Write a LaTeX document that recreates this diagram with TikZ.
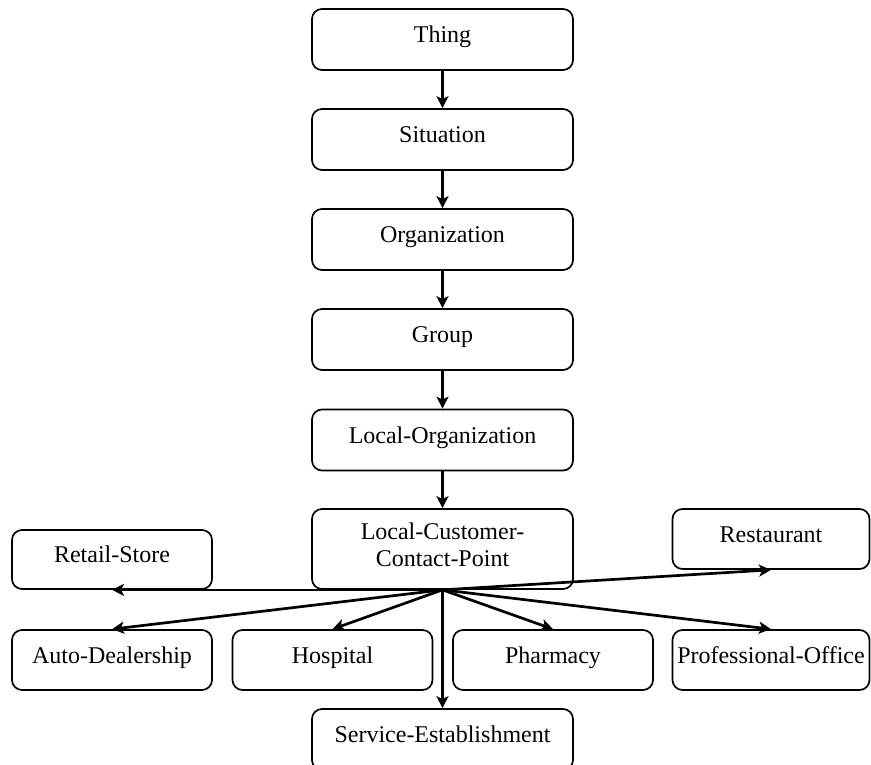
\documentclass[tikz,border=0pt]{standalone}
\usepackage{fontspec}
\setmainfont{Liberation Serif}
\usetikzlibrary{arrows.meta}
\begin{document}
\begin{tikzpicture}[x=1pt,y=-1pt,
  box/.style={draw, line width=1.7pt, rounded corners=10pt, inner sep=0pt,
    font=\fontsize{24}{27}\selectfont, text height=17pt, text depth=11pt, align=center},
  cbox/.style={box, minimum width=261pt, minimum height=61pt},
  sbox/.style={box, minimum width=200pt, minimum height=60pt},
  arr/.style={line width=2.7pt, -{Stealth[length=12pt,width=12pt,inset=3pt]}}]
\clip (0,0) rectangle (871,765);
\fill[white] (0,0) rectangle (871,765);
% centre column
\node[cbox] (thing) at (442.5,39.5) {Thing};
\node[cbox] (sit) at (442.5,139.5) {Situation};
\node[cbox] (org) at (442.5,239.5) {Organization};
\node[cbox] (grp) at (442.5,339.5) {Group};
\node[cbox] (lorg) at (442.5,440) {Local-Organization};
\node[draw, line width=1.7pt, rounded corners=10pt, inner sep=0pt, align=center,
  font=\fontsize{24}{27}\selectfont, minimum width=261pt, minimum height=80pt]
  (lccp) at (442.5,549) {Local-Customer-\\Contact-Point\rule[-8pt]{0pt}{8pt}};
\node[cbox] (serv) at (442.5,739.5) {Service-Establishment};
% side boxes
\node[sbox, minimum height=59pt] (retail) at (112,559.5) {Retail-Store};
\node[sbox, minimum width=197pt] (rest) at (771,539) {Restaurant};
\node[sbox] (auto) at (112,660) {Auto-Dealership};
\node[sbox] (hosp) at (332.5,660) {Hospital};
\node[sbox] (pharm) at (553,660) {Pharmacy};
\node[sbox, minimum width=197pt] (prof) at (771,660) {Professional-Office};
% arrows
\draw[arr] (thing.south) -- (sit.north);
\draw[arr] (sit.south) -- (org.north);
\draw[arr] (org.south) -- (grp.north);
\draw[arr] (grp.south) -- (lorg.north);
\draw[arr] (lorg.south) -- (lccp.north);
\draw[arr] (lccp.south) -- (retail.south);
\draw[arr] (lccp.south) -- (rest.south);
\draw[arr] (lccp.south) -- (auto.north);
\draw[arr] (lccp.south) -- (hosp.north);
\draw[arr] (lccp.south) -- (pharm.north);
\draw[arr] (lccp.south) -- (prof.north);
\draw[arr] (lccp.south) -- (serv.north);
\end{tikzpicture}
\end{document}
